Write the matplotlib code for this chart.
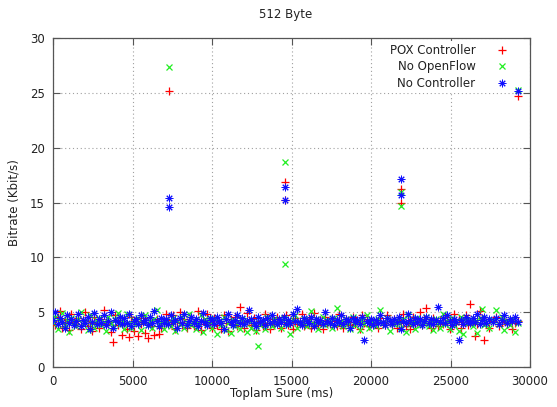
import matplotlib
matplotlib.use('Agg')
import matplotlib.pyplot as plt

# sample times (ms), shared by the three runs
t_ms = [
    0, 145, 290, 440, 580, 725, 870, 1015, 1160, 1305,
    1450, 1595, 1740, 1885, 2030, 2175, 2320, 2465, 2610, 2755,
    2900, 3045, 3190, 3335, 3480, 3625, 3770, 3915, 4060, 4205,
    4350, 4495, 4640, 4785, 4930, 5075, 5220, 5365, 5510, 5655,
    5800, 5945, 6090, 6235, 6380, 6525, 6670, 6815, 6960, 7105,
    7250, 7395, 7540, 7685, 7830, 7975, 8120, 8265, 8410, 8555,
    8700, 8845, 8990, 9135, 9280, 9425, 9570, 9715, 9860, 10005,
    10150, 10295, 10440, 10585, 10730, 10875, 11020, 11165, 11310, 11455,
    11600, 11745, 11890, 12035, 12180, 12325, 12470, 12615, 12760, 12905,
    13050, 13195, 13340, 13485, 13630, 13775, 13920, 14065, 14210, 14355,
    14500, 14645, 14790, 14935, 15080, 15225, 15370, 15515, 15660, 15805,
    15950, 16095, 16240, 16385, 16530, 16675, 16820, 16965, 17110, 17255,
    17400, 17545, 17690, 17835, 17980, 18125, 18270, 18415, 18560, 18705,
    18850, 18995, 19140, 19285, 19430, 19575, 19720, 19865, 20010, 20155,
    20300, 20445, 20590, 20735, 20880, 21025, 21170, 21315, 21460, 21605,
    21750, 21895, 22040, 22185, 22330, 22475, 22620, 22765, 22910, 23055,
    23200, 23345, 23490, 23635, 23780, 23925, 24070, 24215, 24360, 24505,
    24650, 24795, 24940, 25085, 25230, 25375, 25520, 25665, 25810, 25955,
    26100, 26245, 26390, 26535, 26680, 26825, 26970, 27115, 27260, 27405,
    27700, 27870, 28040, 28210, 28380, 28550, 28720, 28890, 29060, 29230,
]

pox = [
    4.2, 3.8, 4.6, 5.1, 3.6, 4.0, 4.4, 3.4, 4.8, 4.1,
    3.9, 4.5, 3.5, 4.3, 5.0, 3.7, 4.2, 3.3, 4.6, 4.0,
    3.6, 4.4, 5.2, 3.9, 4.1, 3.2, 2.3, 4.7, 3.8, 4.3,
    2.9, 4.0, 3.5, 2.7, 4.6, 3.3, 4.2, 2.8, 3.9, 4.5,
    3.1, 2.6, 4.1, 3.7, 2.9, 4.4, 3.0, 3.6, 4.0, 4.8,
    4.3, 3.9, 4.7, 3.5, 4.1, 5.0, 3.8, 4.4, 3.6, 4.2,
    4.6, 3.7, 4.0, 5.1, 3.4, 4.3, 3.9, 4.8, 4.1, 3.6,
    4.5, 3.8, 4.2, 3.5, 4.7, 4.0, 3.3, 4.4, 3.9, 4.6,
    3.7, 5.5, 4.1, 3.6, 4.9, 4.3, 3.8, 4.5, 3.4, 4.0,
    4.2, 3.7, 4.8, 4.0, 3.5, 4.4, 3.9, 4.6, 4.1, 3.6,
    4.3, 4.7, 3.8, 4.1, 3.5, 4.5, 3.9, 4.2, 4.8, 3.7,
    4.0, 4.4, 3.6, 4.9, 4.1, 3.8, 4.3, 3.5, 4.6, 4.0,
    3.9, 4.5, 4.2, 3.7, 4.8, 4.0, 3.6, 4.4, 4.1, 3.8,
    4.6, 3.9, 4.2, 3.5, 4.7, 4.0, 4.4, 3.7, 4.3, 3.9,
    4.1, 3.6, 4.5, 4.0, 3.8, 4.7, 4.2, 3.9, 4.4, 3.6,
    4.3, 4.0, 4.8, 3.7, 4.1, 3.5, 4.6, 3.9, 4.2, 5.0,
    3.8, 4.4, 5.4, 4.0, 3.6, 4.5, 4.1, 3.7, 4.3, 3.9,
    4.6, 4.0, 3.5, 4.2, 4.8, 3.9, 4.4, 3.6, 4.1, 4.7,
    3.8, 5.7, 4.3, 2.8, 3.9, 5.1, 4.5, 2.5, 4.0, 3.6,
    4.2, 4.6, 3.7, 4.1, 4.4, 3.9, 4.3, 3.5, 4.0, 4.2,
]

no_openflow = [
    4.0, 4.6, 3.5, 4.2, 4.9, 3.8, 4.3, 3.2, 4.5, 4.1,
    3.7, 4.4, 5.0, 3.9, 4.2, 3.4, 4.7, 4.0, 3.6, 4.3,
    4.5, 3.8, 4.1, 3.3, 4.6, 4.0, 3.7, 4.4, 4.9, 3.9,
    4.2, 3.5, 4.8, 4.0, 3.6, 4.3, 3.9, 4.5, 3.4, 4.1,
    4.7, 3.8, 4.2, 3.6, 4.4, 5.2, 3.9, 4.1, 3.5, 4.3,
    4.0, 3.7, 4.5, 3.3, 4.2, 3.9, 4.6, 3.6, 4.1, 4.8,
    3.8, 4.3, 3.5, 4.0, 4.7, 3.2, 4.4, 3.9, 4.1, 3.6,
    4.5, 3.0, 4.2, 3.8, 4.6, 3.4, 4.0, 3.1, 4.3, 3.7,
    4.1, 3.5, 4.4, 3.9, 3.2, 4.2, 3.6, 4.0, 3.3, 1.9,
    3.8, 4.3, 3.5, 4.6, 4.0, 3.7, 4.4, 3.9, 4.2, 3.6,
    4.5, 4.0, 3.8, 3.0, 4.3, 4.7, 3.6, 4.1, 3.9, 4.4,
    3.7, 4.2, 5.1, 3.9, 4.4, 3.5, 4.0, 4.6, 3.8, 4.3,
    4.1, 3.6, 4.5, 5.4, 3.9, 4.2, 3.7, 4.4, 4.0, 3.5,
    4.6, 3.8, 4.1, 3.4, 4.3, 3.9, 4.7, 3.6, 4.2, 4.0,
    3.7, 4.4, 5.2, 4.0, 3.8, 4.5, 3.3, 4.1, 3.9, 4.3,
    4.0, 3.6, 4.4, 3.2, 4.7, 3.9, 4.2, 3.5, 4.5, 3.8,
    4.3, 3.9, 4.6, 3.7, 4.1, 3.4, 4.4, 4.0, 3.6, 4.8,
    3.9, 4.2, 3.5, 4.5, 3.8, 4.1, 3.3, 4.6, 3.0, 4.3,
    4.0, 4.4, 3.7, 4.2, 3.1, 4.5, 5.3, 3.8, 4.1, 3.6,
    4.3, 5.2, 3.9, 4.6, 3.4, 4.2, 3.8, 4.4, 3.2, 4.0,
]

no_controller = [
    4.3, 5.0, 3.9, 4.5, 4.1, 3.6, 4.7, 4.0, 4.4, 3.8,
    4.2, 4.8, 3.7, 4.3, 4.0, 4.6, 3.5, 4.1, 4.9, 3.9,
    4.4, 4.0, 4.7, 3.8, 4.2, 5.0, 3.6, 4.3, 4.1, 4.6,
    3.9, 4.5, 4.0, 4.8, 3.7, 4.2, 4.4, 3.9, 4.7, 4.1,
    4.3, 3.8, 4.6, 4.0, 5.1, 4.2, 3.7, 4.5, 4.0, 4.4,
    3.9, 4.7, 4.1, 4.3, 3.6, 4.5, 4.0, 4.8, 3.8, 4.2,
    4.6, 4.0, 4.4, 3.7, 4.2, 4.9, 4.1, 3.8, 4.5, 4.3,
    3.9, 4.6, 4.2, 4.0, 3.5, 4.4, 4.8, 4.1, 3.8, 4.3,
    4.7, 4.0, 4.5, 3.9, 4.2, 5.2, 4.4, 4.0, 3.7, 4.6,
    4.1, 4.3, 3.8, 4.5, 4.0, 4.7, 4.2, 3.9, 4.4, 4.1,
    4.6, 3.9, 4.3, 4.0, 4.8, 4.2, 5.3, 4.1, 3.8, 4.5,
    4.2, 4.0, 4.6, 3.7, 4.4, 4.1, 4.3, 3.9, 5.0, 4.2,
    4.0, 4.5, 3.8, 4.3, 4.1, 4.7, 3.9, 4.4, 4.2, 3.6,
    4.5, 4.1, 4.3, 3.9, 4.6, 2.5, 4.2, 4.0, 4.4, 3.8,
    4.3, 4.0, 4.7, 4.1, 3.8, 4.5, 4.2, 3.9, 4.4, 4.1,
    4.6, 3.5, 4.2, 4.0, 4.8, 4.3, 3.9, 4.5, 4.1, 4.4,
    3.8, 4.2, 4.6, 4.0, 4.4, 3.9, 4.3, 5.5, 4.1, 4.5,
    4.0, 4.7, 4.2, 3.8, 4.4, 4.1, 2.5, 4.3, 3.9, 4.6,
    4.2, 4.0, 4.5, 4.1, 4.8, 3.9, 4.3, 4.6, 4.0, 4.4,
    4.1, 4.5, 3.9, 4.3, 4.7, 4.0, 4.4, 4.2, 4.6, 4.1,
]

# bursts every ~7.3 s
pox_spike_t = [7300, 14600, 14600, 21900, 21900, 29250]
pox_spike_y = [25.2, 16.9, 15.2, 16.2, 15.0, 24.7]
nof_spike_t = [7300, 14600, 14600, 21900, 21900, 29250]
nof_spike_y = [27.4, 18.7, 9.4, 16.0, 14.7, 25.3]
noc_spike_t = [7300, 7300, 14600, 14600, 21900, 21900, 29250]
noc_spike_y = [15.45, 14.6, 16.4, 15.2, 17.15, 15.7, 25.2]

plt.rcParams['font.family'] = 'DejaVu Sans'
plt.rcParams['font.size'] = 8.5
txt = '#222222'

fig = plt.figure(figsize=(5.57, 4.07), dpi=100)
ax = fig.add_axes([53 / 557, 1 - 367 / 407, 477 / 557, 329 / 407])

ms = 5.2
ax.plot(t_ms + pox_spike_t, pox + pox_spike_y, linestyle='none', marker='+',
        color='#ff0000', markersize=ms, markeredgewidth=0.9, label='POX Controller', zorder=3)
ax.plot(t_ms + nof_spike_t, no_openflow + nof_spike_y, linestyle='none', marker='x',
        color='#22ee22', markersize=ms * 0.95, markeredgewidth=0.9, label='No OpenFlow', zorder=3)
ax.plot(t_ms + noc_spike_t, no_controller + noc_spike_y, linestyle='none', marker=(8, 2, 0),
        color='#1010ff', markersize=ms * 1.05, markeredgewidth=0.7, label='No Controller', zorder=3)

ax.set_xlim(0, 30000)
ax.set_ylim(0, 30)
ax.set_xticks([0, 5000, 10000, 15000, 20000, 25000, 30000])
ax.set_yticks([0, 5, 10, 15, 20, 25, 30])
ax.set_axisbelow(True)
ax.grid(True, color='#a0a0a0', linestyle=(0, (1, 2.5)), linewidth=0.8)
ax.tick_params(direction='in', top=True, right=True, length=5, width=0.8,
               colors='#555555', labelcolor=txt, labelsize=8.5, pad=6)
for s in ax.spines.values():
    s.set_color('#555555')
    s.set_linewidth(0.9)

ax.set_xlabel('Toplam Sure (ms)', color=txt)
ax.xaxis.set_label_coords(0.48, -0.062)
ax.set_ylabel('Bitrate (Kbit/s)', color=txt)
ax.yaxis.set_label_coords(-0.068, 0.5)
fig.text(0.512, 0.965, '512 Byte', ha='center', va='center', color=txt)

leg = ax.legend(loc='upper right', bbox_to_anchor=(0.975, 1.01), markerfirst=False,
                frameon=True, edgecolor='none', facecolor='white', framealpha=1,
                fancybox=False, handlelength=1.2, handletextpad=1.6,
                labelspacing=0.28, borderpad=0.3, numpoints=1)
leg.set_zorder(1)
for t in leg.get_texts():
    t.set_color(txt)

fig.savefig('out.png', dpi=100)
